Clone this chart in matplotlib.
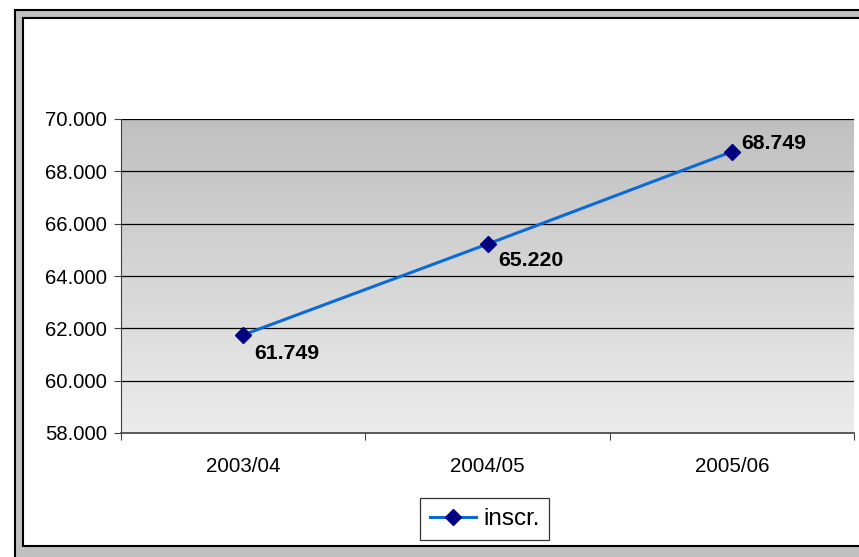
import numpy as np
import matplotlib
matplotlib.use("Agg")
import matplotlib.pyplot as plt
from matplotlib.patches import Rectangle

# datos
anni = ["2003/04", "2004/05", "2005/06"]
inscr = [61749, 65220, 68749]
etichette = ["61.749", "65.220", "68.749"]
y_ticks = [58000, 60000, 62000, 64000, 66000, 68000, 70000]
y_labels = ["58.000", "60.000", "62.000", "64.000", "66.000", "68.000", "70.000"]

plt.rcParams["font.family"] = ["Liberation Sans", "DejaVu Sans"]

W, H = 859, 557
fig = plt.figure(figsize=(W / 100, H / 100), dpi=100)

# cornice esterna (grigia con bordi neri), tagliata a destra
fig.patches.append(Rectangle((15 / W, 1 - 575 / H), 900 / W, 565 / H,
                             transform=fig.transFigure, facecolor="#c0c0c0",
                             edgecolor="black", linewidth=1.5, zorder=-2))
fig.patches.append(Rectangle((23 / W, 1 - 546 / H), 900 / W, 528 / H,
                             transform=fig.transFigure, facecolor="white",
                             edgecolor="black", linewidth=1.5, zorder=-1))

ax = fig.add_axes([121 / W, 1 - 433 / H, (854 - 121) / W, (433 - 119) / H])
ax.set_facecolor("none")

x = np.arange(len(anni))
ax.set_xlim(-0.5, len(anni) - 0.5)
ax.set_ylim(58000, 70000)

# sfondo sfumato
grad = np.linspace(0, 1, 256).reshape(-1, 1)
ax.imshow(grad, extent=[-0.5, len(anni) - 0.5, 58000, 70000], aspect="auto",
          cmap=matplotlib.colors.LinearSegmentedColormap.from_list("g", ["#ececec", "#c0c0c0"]),
          origin="lower", zorder=0)

for yv in y_ticks[1:]:
    ax.axhline(yv, color="black", linewidth=0.9, zorder=1)

ax.plot(x, inscr, color="#0a6ad6", linewidth=2.2, marker="D", markersize=8,
        markerfacecolor="#000080", markeredgecolor="#000080", label="inscr.", zorder=3)

offs = [(8, -13.5), (7.5, -11.5), (6.5, 6)]
for xi, yi, lab, (dx, dy) in zip(x, inscr, etichette, offs):
    ax.annotate(lab, (xi, yi), xytext=(dx, dy), textcoords="offset points",
                ha="left", va="center", fontsize=15.3, fontweight="bold", zorder=4)

ax.set_yticks(y_ticks)
ax.set_yticklabels(y_labels, fontsize=14.6)
ax.set_xticks([-0.5, 0.5, 1.5, 2.5])
ax.set_xticklabels([])
ax.set_xticks(x, minor=True)
ax.set_xticklabels(anni, minor=True, fontsize=14.8)
ax.tick_params(axis="x", which="major", length=5, direction="out", color="#404040")
ax.tick_params(axis="x", which="minor", length=0, pad=17)
ax.tick_params(axis="y", length=5, direction="out", pad=5, color="#404040")

for s in ["top", "right"]:
    ax.spines[s].set_visible(False)
ax.spines["left"].set_color("#404040")
ax.spines["bottom"].set_color("#404040")
ax.spines["bottom"].set_linewidth(1.2)

leg = ax.legend(loc="center", bbox_to_anchor=(0.496, -0.274), fontsize=17.5,
                frameon=True, fancybox=False, edgecolor="black", handlelength=1.9,
                handletextpad=0.3, borderpad=0.4)
leg.get_frame().set_linewidth(0.9)

fig.savefig("out.png", dpi=100)
